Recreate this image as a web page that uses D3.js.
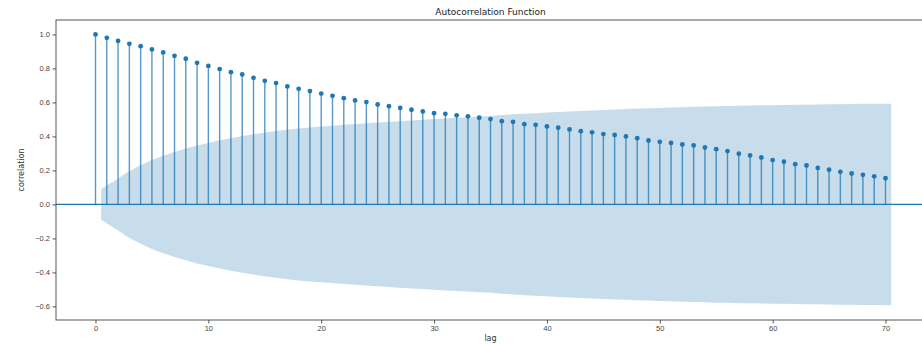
<!DOCTYPE html>
<html>
<head>
<meta charset="utf-8">
<script src="https://cdn.jsdelivr.net/npm/d3@7"></script>
<style>
  body { margin: 0; background: #fff; }
  svg { display: block; font-family: "DejaVu Sans", sans-serif; }
  .tick text { fill: #444; font-size: 7.5px; }
  .tick line { stroke: #555; }
  .domain { display: none; }
</style>
</head>
<body>
<svg width="922" height="344"></svg>
<script>
// autocorrelation at each lag
var lags = d3.range(0, 71);
var acfValues = [
  1.000, 0.980, 0.962, 0.945, 0.931, 0.912, 0.894, 0.874, 0.857, 0.833,
  0.815, 0.796, 0.778, 0.765, 0.745, 0.727, 0.714, 0.694, 0.680, 0.667,
  0.652, 0.639, 0.625, 0.612, 0.602, 0.588, 0.578, 0.568, 0.557, 0.547,
  0.537, 0.533, 0.524, 0.518, 0.510, 0.502, 0.490, 0.486, 0.472, 0.468,
  0.459, 0.451, 0.441, 0.431, 0.424, 0.414, 0.409, 0.400, 0.390, 0.376,
  0.368, 0.362, 0.353, 0.347, 0.335, 0.325, 0.314, 0.298, 0.288, 0.276,
  0.261, 0.251, 0.237, 0.229, 0.215, 0.204, 0.192, 0.182, 0.174, 0.165,
  0.154
];
// half width of the confidence band for lags 1..70
var bandHalfWidth = [
  0.090, 0.153, 0.197, 0.231, 0.262, 0.287, 0.309, 0.329, 0.347, 0.362,
  0.377, 0.390, 0.402, 0.413, 0.423, 0.432, 0.440, 0.447, 0.453, 0.458,
  0.463, 0.468, 0.473, 0.477, 0.482, 0.486, 0.490, 0.494, 0.498, 0.502,
  0.506, 0.510, 0.513, 0.517, 0.520, 0.526, 0.530, 0.534, 0.537, 0.541,
  0.544, 0.547, 0.550, 0.553, 0.556, 0.559, 0.561, 0.564, 0.566, 0.568,
  0.570, 0.572, 0.574, 0.576, 0.578, 0.579, 0.581, 0.582, 0.583, 0.584,
  0.585, 0.586, 0.587, 0.588, 0.589, 0.590, 0.591, 0.592, 0.592, 0.593
];
var xTicks = [0, 10, 20, 30, 40, 50, 60, 70];
var yTicks = [-0.6, -0.4, -0.2, 0.0, 0.2, 0.4, 0.6, 0.8, 1.0];

var svg = d3.select("svg");
var blue = "#1f77b4";

// axes box (right edge falls just outside the picture)
var plotLeft = 56, plotRight = 925, plotTop = 20, plotBottom = 320;

var x = d3.scaleLinear().domain([-3.5, 73.5]).range([plotLeft, plotRight]);
var y = d3.scaleLinear().domain([-0.68, 1.085]).range([plotBottom, plotTop]);

// confidence band: first point shifted to 0.5, last to 70.5
var band = bandHalfWidth.map(function(v, i) {
    var lag = i + 1;
    if (i === 0) lag = 0.5;
    if (i === bandHalfWidth.length - 1) lag = lag + 0.5;
    return { lag: lag, v: v };
});

var area = d3.area()
    .x(function(d) { return x(d.lag); })
    .y0(function(d) { return y(-d.v); })
    .y1(function(d) { return y(d.v); });

svg.append("path")
    .datum(band)
    .attr("fill", blue)
    .attr("fill-opacity", 0.25)
    .attr("d", area);

// zero line
svg.append("line")
    .attr("x1", plotLeft).attr("x2", plotRight)
    .attr("y1", y(0)).attr("y2", y(0))
    .attr("stroke", blue)
    .attr("stroke-width", 1.2);

// stems
svg.append("g").selectAll("line")
    .data(lags)
    .enter().append("line")
    .attr("x1", function(d) { return x(d); })
    .attr("x2", function(d) { return x(d); })
    .attr("y1", y(0))
    .attr("y2", function(d) { return y(acfValues[d]); })
    .attr("stroke", blue)
    .attr("stroke-opacity", 0.75)
    .attr("stroke-width", 1.4);

// markers
svg.append("g").selectAll("circle")
    .data(lags)
    .enter().append("circle")
    .attr("cx", function(d) { return x(d); })
    .attr("cy", function(d) { return y(acfValues[d]); })
    .attr("r", 2.4)
    .attr("fill", blue);

// Add the X Axis
svg.append("g")
    .attr("transform", "translate(0," + plotBottom + ")")
    .call(d3.axisBottom(x).tickValues(xTicks).tickSize(3.5).tickPadding(2.5).tickFormat(d3.format("d")));

// Add the Y Axis
svg.append("g")
    .attr("transform", "translate(" + plotLeft + ",0)")
    .call(d3.axisLeft(y).tickValues(yTicks).tickSize(3.5).tickPadding(2.5).tickFormat(d3.format(".1f")));

// frame
svg.append("rect")
    .attr("x", plotLeft).attr("y", plotTop)
    .attr("width", plotRight - plotLeft).attr("height", plotBottom - plotTop)
    .attr("fill", "none")
    .attr("stroke", "#444")
    .attr("stroke-width", 0.9);

// title and labels
svg.append("text")
    .attr("x", (plotLeft + plotRight) / 2)
    .attr("y", 15)
    .attr("text-anchor", "middle")
    .attr("fill", "#222")
    .style("font-size", "9px")
    .text("Autocorrelation Function");

svg.append("text")
    .attr("x", (plotLeft + plotRight) / 2)
    .attr("y", 341)
    .attr("text-anchor", "middle")
    .attr("fill", "#333")
    .style("font-size", "8px")
    .text("lag");

svg.append("text")
    .attr("transform", "translate(24," + (plotTop + plotBottom) / 2 + ") rotate(-90)")
    .attr("text-anchor", "middle")
    .attr("fill", "#333")
    .style("font-size", "8px")
    .text("correlation");
</script>
</body>
</html>
